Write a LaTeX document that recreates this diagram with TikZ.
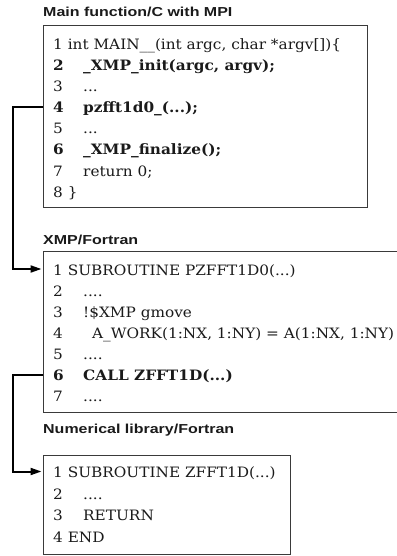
\documentclass[tikz,border=0pt]{standalone}
\usepackage{graphicx}
\usepackage{fontspec}
\newfontfamily\codefont[FakeStretch=1.07]{DejaVu Serif}
\newfontfamily\codebold[FakeStretch=1.07]{DejaVu Serif Bold}
\newfontfamily\titlefont{Liberation Sans}
\newcommand\widetitle[1]{\scalebox{1.23}[1]{#1}}
\usetikzlibrary{arrows.meta}

\definecolor{ink}{HTML}{1A1A1A}
\definecolor{frame}{HTML}{3A3A3A}

\tikzset{
  codebox/.style={draw=frame, line width=1.2pt, inner sep=0pt, anchor=north west},
  title/.style={anchor=base west, inner sep=0pt, text=ink,
    font=\titlefont\bfseries\fontsize{13}{15}\selectfont},
  code/.style={anchor=base west, inner sep=0pt, text=ink,
    font=\codefont\fontsize{14.3}{17}\selectfont},
  bcode/.style={code, font=\codebold\fontsize{14.3}{17}\selectfont},
  call/.style={draw=black, line width=2pt, line join=miter, shorten >=1.5pt,
    -{Triangle[length=11pt,width=7pt]}}
}

\begin{document}
\begin{tikzpicture}[x=1pt, y=-1pt]
\useasboundingbox (0,0) rectangle (396,556);

% ---- main program in C ----
\node[title] (tm) at (43,17) {\widetitle{Main function/C with MPI}};
\node[codebox, minimum width=324pt, minimum height=182pt] (m) at (43,25) {};
\node[code]  (m1) at (53,49.5)  {1 int MAIN\_\_(int argc, char *argv[])\{};
\node[bcode] (m2) at (53,70.6)  {2};
\node[bcode] (m2t) at (83,70.6) {\_XMP\_init(argc, argv);};
\node[code]  (m3) at (53,91.7)  {3};
\node[code]  (m3t) at (83,91.7) {...};
\node[bcode] (m4) at (53,112.8) {4};
\node[bcode] (m4t) at (83,112.8) {pzfft1d0\_(...);};
\node[code]  (m5) at (53,133.9) {5};
\node[code]  (m5t) at (83,133.9) {...};
\node[bcode] (m6) at (53,155)   {6};
\node[bcode] (m6t) at (83,155)  {\_XMP\_finalize();};
\node[code]  (m7) at (53,176.1) {7};
\node[code]  (m7t) at (83,176.1) {return 0;};
\node[code]  (m8) at (53,197.2) {8 \}};

% ---- XMP/Fortran routine ----
\node[title] (tx) at (43,244.5) {\widetitle{XMP/Fortran}};
\node[codebox, minimum width=370pt, minimum height=161pt] (x) at (43,251) {};
\node[code]  (x1) at (53,275)    {1 SUBROUTINE PZFFT1D0(...)};
\node[code]  (x2) at (53,296.1)  {2};
\node[code]  (x2t) at (83,296.1) {....};
\node[code]  (x3) at (53,317.2)  {3};
\node[code]  (x3t) at (83,317.2) {!\$XMP gmove};
\node[code]  (x4) at (53,338.3)  {4};
\node[code]  (x4t) at (92,338.3) {A\_WORK(1:NX, 1:NY) = A(1:NX, 1:NY)};
\node[code]  (x5) at (53,359.4)  {5};
\node[code]  (x5t) at (83,359.4) {....};
\node[bcode] (x6) at (53,380.5)  {6};
\node[bcode] (x6t) at (83,380.5) {CALL ZFFT1D(...)};
\node[code]  (x7) at (53,401.6)  {7};
\node[code]  (x7t) at (83,401.6) {....};

% ---- numerical library routine ----
\node[title] (tn) at (43,433.5) {\widetitle{Numerical library/Fortran}};
\node[codebox, minimum width=247pt, minimum height=99pt] (n) at (43,455) {};
\node[code]  (n1) at (53,477.5)  {1 SUBROUTINE ZFFT1D(...)};
\node[code]  (n2) at (53,499)    {2};
\node[code]  (n2t) at (83,499)   {....};
\node[code]  (n3) at (53,520.5)  {3};
\node[code]  (n3t) at (83,520.5) {RETURN};
\node[code]  (n4) at (53,542)    {4 END};

% ---- call connectors (y grows downwards, so shift up by +yshift) ----
\draw[call] ([yshift=6pt]m.west |- m4.base) -- ++(-30,0)
  |- ([yshift=6pt]x.west |- x1.base);
\draw[call] ([yshift=6pt]x.west |- x6.base) -- ++(-30,0)
  |- ([yshift=6pt]n.west |- n1.base);
\end{tikzpicture}
\end{document}
